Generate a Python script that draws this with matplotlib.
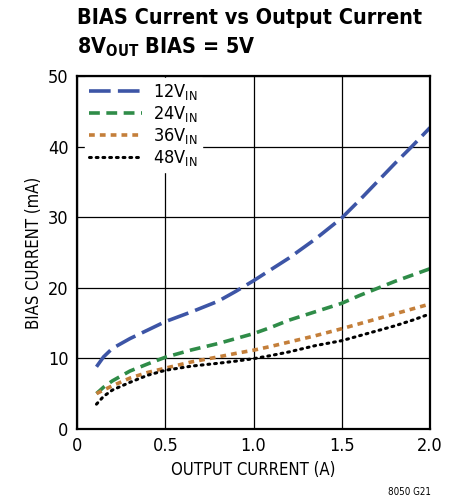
import matplotlib
matplotlib.use("Agg")
import matplotlib.pyplot as plt
from matplotlib import font_manager

# condensed face if the system has one, otherwise plain Liberation Sans
cond = font_manager.findfont(font_manager.FontProperties(family="DejaVu Sans", stretch="condensed", weight="bold"))
if "Condensed" in cond:
    base_font = ["DejaVu Sans"]
    stretch = "condensed"
else:
    base_font = ["Liberation Sans", "DejaVu Sans"]
    stretch = "normal"
plt.rcParams['font.family'] = base_font
plt.rcParams['font.stretch'] = stretch

output_current = [0.11, 0.15, 0.2, 0.3, 0.4, 0.5, 0.65, 0.8, 0.9, 1.0,
                  1.1, 1.2, 1.35, 1.5, 1.6, 1.7, 1.8, 1.9, 2.0]
bias_12v = [8.8, 10.2, 11.4, 12.8, 14.0, 15.2, 16.6, 18.1, 19.5, 21.0,
            22.6, 24.2, 26.9, 29.9, 32.4, 35.0, 37.6, 40.1, 42.7]
bias_24v = [5.0, 5.9, 6.8, 8.2, 9.2, 10.15, 11.2, 12.1, 12.8, 13.5,
            14.4, 15.4, 16.6, 17.8, 18.9, 19.9, 20.9, 21.8, 22.7]
bias_36v = [5.0, 5.5, 6.1, 7.2, 8.0, 8.6, 9.5, 10.2, 10.7, 11.15,
            11.7, 12.3, 13.2, 14.2, 14.9, 15.6, 16.3, 17.0, 17.7]
bias_48v = [3.5, 4.6, 5.5, 6.6, 7.6, 8.3, 8.9, 9.3, 9.6, 9.95,
            10.4, 10.9, 11.8, 12.5, 13.2, 13.9, 14.6, 15.4, 16.3]

fig = plt.figure(figsize=(4.56, 5.01), dpi=100)
ax = fig.add_axes([0.169, 0.144, 0.774, 0.704])

ax.plot(output_current, bias_12v, color="#3d55a6", lw=2.6, dashes=(6, 2), label=r"12V$_{\mathregular{IN}}$")
ax.plot(output_current, bias_24v, color="#2f8c48", lw=2.6, dashes=(3, 1.8), label=r"24V$_{\mathregular{IN}}$")
ax.plot(output_current, bias_36v, color="#c47f3a", lw=2.6, dashes=(1.6, 1.4), label=r"36V$_{\mathregular{IN}}$")
ax.plot(output_current, bias_48v, color="black", lw=2.2, dashes=(0.6, 1.6), dash_capstyle="round", label=r"48V$_{\mathregular{IN}}$")

ax.set_xlim(0, 2.0)
ax.set_ylim(0, 50)
ax.set_xticks([0, 0.5, 1.0, 1.5, 2.0])
ax.set_xticklabels(["0", "0.5", "1.0", "1.5", "2.0"])
ax.set_yticks([0, 10, 20, 30, 40, 50])
ax.grid(True, color="black", lw=0.9)
ax.tick_params(length=0, labelsize=13, pad=6)
for s in ax.spines.values():
    s.set_linewidth(1.6)

ax.set_xlabel("OUTPUT CURRENT (A)", fontsize=12)
ax.set_ylabel("BIAS CURRENT (mA)", fontsize=12)

leg = ax.legend(loc="upper left", bbox_to_anchor=(0.017, 1.0), fontsize=13,
                frameon=True, fancybox=False, framealpha=1, edgecolor="white",
                handlelength=2.9, labelspacing=0.1, borderaxespad=0.1,
                borderpad=0.25, handletextpad=0.6)

t1 = fig.text(0.169, 0.985, "BIAS Current vs Output Current", fontsize=20, fontweight="bold", va="top")
t2 = fig.text(0.169, 0.93, r"8V$_{\mathregular{OUT}}$ BIAS = 5V", fontsize=20, fontweight="bold", va="top")
# shrink the title so the first line spans about 341 px like the original
fig.canvas.draw()
w = t1.get_window_extent().width
size = 20 * 345 / w
t1.set_fontsize(size)
t2.set_fontsize(size)

fig.text(0.945, 0.012, "8050 G21", fontsize=7, ha="right")

fig.savefig("out.png", dpi=100)
